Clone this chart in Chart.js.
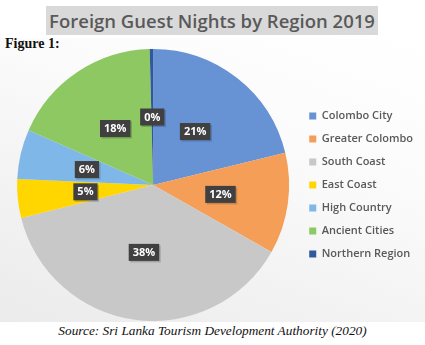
<!DOCTYPE html>
<html>
<head>
<meta charset="utf-8">
<script src="https://cdn.jsdelivr.net/npm/chart.js@4/dist/chart.umd.min.js"></script>
<style>
  html, body { margin:0; padding:0; width:425px; height:345px; background:#fff; overflow:hidden; }
  #bg { position:absolute; left:0; top:38px; width:425px; height:284px;
        background: linear-gradient(200deg, #ffffff 0%, #fbfbfb 35%, #ebebeb 100%); }
  #title { position:absolute; left:46px; top:6px; width:332px; height:29px; background:#d9d9d9;
           font-family:"Open Sans", sans-serif; font-weight:600; font-size:18.5px; color:#595959;
           line-height:29px; text-align:center; white-space:nowrap; }
  #fig { position:absolute; left:5px; top:36px; font-family:"Liberation Serif", serif; font-weight:bold;
         font-size:14px; color:#111; }
  #src { position:absolute; left:0; width:425px; top:323px; text-align:center;
         font-family:"Liberation Serif", serif; font-style:italic; font-size:13.3px; color:#111; }
  #wrap { position:absolute; left:0; top:49px; width:425px; height:272px; }
</style>
</head>
<body>
<div id="bg"></div>
<div id="title">Foreign Guest Nights by Region 2019</div>
<div id="fig">Figure 1:</div>
<div id="wrap"><canvas id="c" width="425" height="272"></canvas></div>
<div id="src">Source: Sri Lanka Tourism Development Authority (2020)</div>
<script>
const categories = ["Colombo City","Greater Colombo","South Coast","East Coast","High Country","Ancient Cities","Northern Region"];
const shares = [21.2, 12.0, 37.9, 4.6, 5.9, 18.0, 0.4];
const sliceColors = ["#6792d3","#f59e57","#c8c8c8","#ffd600","#7fb8e8","#8dc862","#30589c"];

const labelBoxes = {
  id: 'labelBoxes',
  afterDatasetsDraw(chart) {
    const ctx = chart.ctx;
    const meta = chart.getDatasetMeta(0);
    const total = shares.reduce((a,b)=>a+b,0);
    ctx.save();
    ctx.font = 'bold 11px "Open Sans", sans-serif';
    ctx.textAlign = 'center';
    ctx.textBaseline = 'middle';
    meta.data.forEach((arc, i) => {
      const p = arc.getProps(['x','y','startAngle','endAngle','outerRadius'], true);
      const mid = (p.startAngle + p.endAngle) / 2;
      const r = p.outerRadius * 0.5;
      const x = p.x + Math.cos(mid) * r;
      const y = p.y + Math.sin(mid) * r;
      const txt = Math.round(shares[i] / total * 100) + '%';
      const w = ctx.measureText(txt).width + 8;
      const h = 17;
      ctx.fillStyle = 'rgba(0,0,0,0.18)';
      ctx.fillRect(x - w/2 + 1.5, y - h/2 + 1.5, w, h);
      ctx.fillStyle = '#404040';
      ctx.fillRect(x - w/2, y - h/2, w, h);
      ctx.fillStyle = '#ffffff';
      ctx.fillText(txt, x, y + 0.5);
    });
    ctx.restore();
  }
};

new Chart(document.getElementById('c'), {
  type: 'pie',
  data: {
    labels: categories,
    datasets: [{ data: shares, backgroundColor: sliceColors, borderWidth: 0 }]
  },
  options: {
    responsive: false,
    animation: false,
    layout: { padding: { left: 9, right: 2, top: 0, bottom: 0 } },
    plugins: {
      tooltip: { enabled: false },
      legend: {
        position: 'right',
        align: 'center',
        labels: {
          boxWidth: 7, boxHeight: 7, padding: 12,
          color: '#595959',
          font: { family: '"Open Sans", sans-serif', size: 11, weight: '600' }
        }
      }
    }
  },
  plugins: [labelBoxes]
});
</script>
</body>
</html>
